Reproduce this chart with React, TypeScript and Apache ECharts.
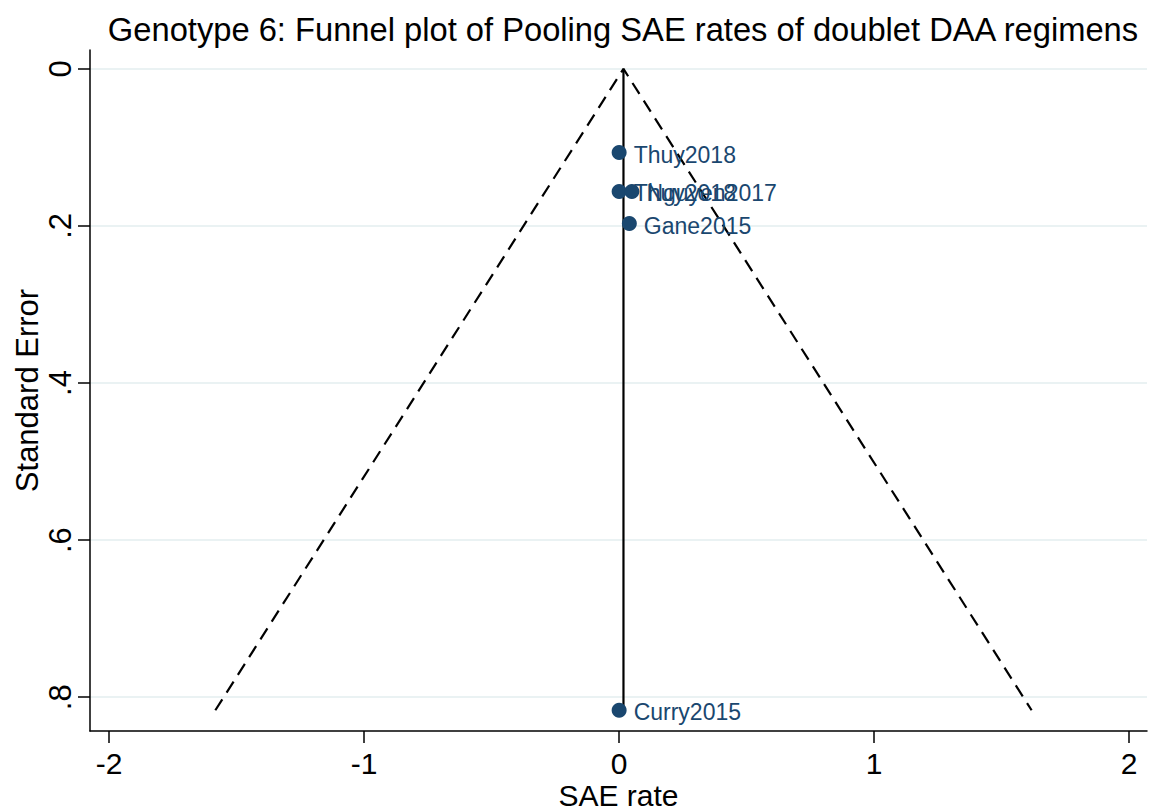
import React, { useEffect, useRef } from "react";
import * as echarts from "echarts";

// Study-level SAE rates and their standard errors
const studyNames = ["Thuy2018", "Thuy2018", "Nguyen2017", "Gane2015", "Curry2015"];
const saeRates = [0.0, 0.0, 0.05, 0.04, 0.0];
const standardErrors = [0.1066, 0.156, 0.156, 0.197, 0.8166];

// Pooled estimate and funnel depth
const pooledRate = 0.017;
const funnelMaxSE = 0.8166;
const zCrit = 1.96;

// Axis ticks
const xTicks = [-2, -1, 0, 1, 2];
const yTicks = [0, 0.2, 0.4, 0.6, 0.8];

const NAVY = "#1a476f";
const FONT = "'Liberation Sans', Arial, Helvetica, sans-serif";

export default function App() {
  const ref = useRef<HTMLDivElement>(null);

  useEffect(() => {
    document.body.style.margin = "0";
    if (!ref.current) return;
    const chart = echarts.init(ref.current, undefined, { renderer: "svg" });

    const points = saeRates.map((x, i) => [x, standardErrors[i], studyNames[i]]);
    const leftEdge = [pooledRate - zCrit * funnelMaxSE, funnelMaxSE];
    const rightEdge = [pooledRate + zCrit * funnelMaxSE, funnelMaxSE];
    const apex = [pooledRate, 0];

    const yFmt = (v: number) => (Math.abs(v) < 1e-9 ? "0" : v.toFixed(1).replace(/^0\./, "."));

    chart.setOption({
      animation: false,
      backgroundColor: "#ffffff",
      textStyle: { fontFamily: FONT },
      title: {
        text: "Genotype 6: Funnel plot of Pooling SAE rates of doublet DAA regimens",
        left: 618,
        textAlign: "center",
        top: 8,
        textStyle: { fontSize: 32.7, fontWeight: "normal", color: "#000", fontFamily: FONT },
      },
      grid: { left: 90, right: 3, top: 50, bottom: 81, outerBoundsMode: "none", containLabel: false },
      xAxis: {
        type: "value",
        min: -2.075,
        max: 2.07,
        name: "SAE rate",
        nameLocation: "middle",
        nameGap: 49.5,
        nameMoveOverlap: false,
        nameTextStyle: { fontSize: 30, color: "#000", fontFamily: FONT },
        axisLine: { show: true, onZero: false, lineStyle: { color: "#000", width: 1.5 } },
        axisTick: { show: true, customValues: xTicks, length: 12, lineStyle: { color: "#000", width: 1.5 } },
        axisLabel: { customValues: xTicks, fontSize: 30, color: "#000", margin: 17, fontFamily: FONT },
        splitLine: { show: false },
      },
      yAxis: {
        type: "value",
        inverse: true,
        min: -0.024,
        max: 0.843,
        name: "Standard Error",
        nameLocation: "middle",
        nameGap: 47,
        nameMoveOverlap: false,
        nameRotate: 90,
        nameTextStyle: { fontSize: 31, color: "#000", fontFamily: FONT },
        axisLine: { show: true, onZero: false, lineStyle: { color: "#000", width: 1.5 } },
        axisTick: { show: true, customValues: yTicks, length: 12, lineStyle: { color: "#000", width: 1.5 } },
        axisLabel: {
          customValues: yTicks,
          rotate: 90,
          fontSize: 31,
          color: "#000",
          margin: 14,
          fontFamily: FONT,
          formatter: yFmt,
        },
        splitLine: { show: false },
      },
      series: [
        {
          // horizontal grid lines at the SE ticks, kept beneath the marks
          type: "line",
          data: [],
          z: 0,
          markLine: {
            silent: true,
            z: 0,
            symbol: "none",
            label: { show: false },
            lineStyle: { color: "#eaf2f3", width: 2, type: "solid" },
            data: yTicks.map((v) => ({ yAxis: v })),
          },
        },
        {
          type: "line",
          data: [leftEdge, apex, rightEdge],
          symbol: "none",
          z: 2,
          lineStyle: { color: "#000", width: 2.2, type: [13, 8] },
        },
        {
          type: "line",
          data: [apex, [pooledRate, funnelMaxSE]],
          symbol: "none",
          z: 2,
          lineStyle: { color: "#000", width: 2.2, type: "solid" },
        },
        {
          type: "scatter",
          data: points,
          symbolSize: 15,
          z: 5,
          itemStyle: { color: NAVY, opacity: 1 },
          label: {
            show: true,
            position: "right",
            distance: 7,
            offset: [0, 2],
            formatter: (p: any) => p.data[2],
            color: NAVY,
            fontSize: 23,
            fontFamily: FONT,
          },
        },
      ],
    });

    return () => chart.dispose();
  }, []);

  return <div ref={ref} style={{ width: 1150, height: 812 }} />;
}
